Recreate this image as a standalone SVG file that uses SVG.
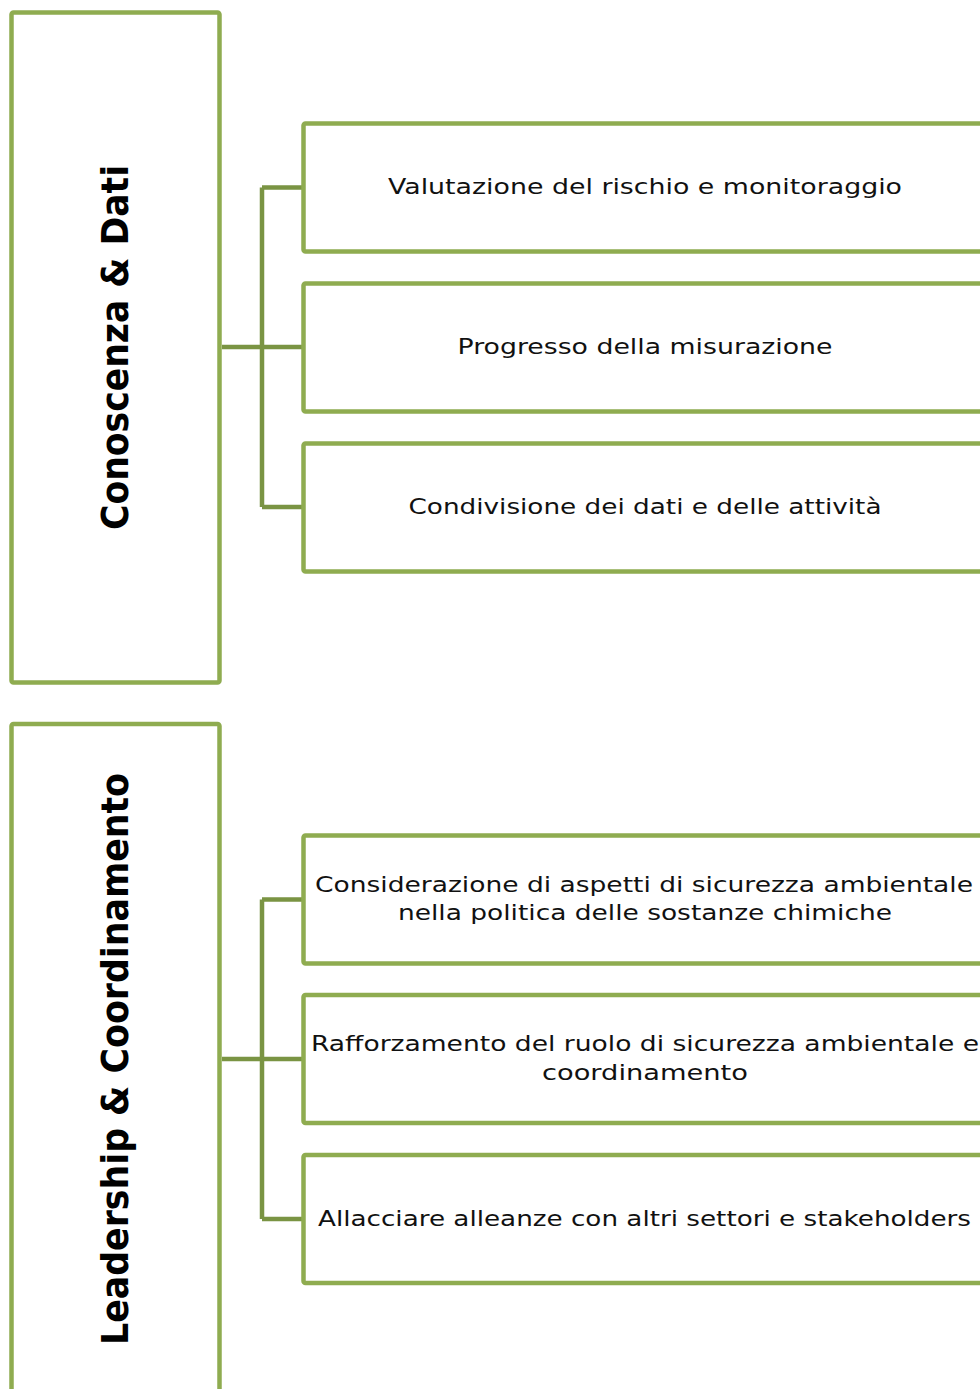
<svg xmlns="http://www.w3.org/2000/svg" width="980" height="1389" viewBox="0 0 980 1389">
<style>
.box{fill:#ffffff;stroke:#8fac50;stroke-width:4.5}
.conn{fill:none;stroke:#7a9443;stroke-width:4.5;stroke-linejoin:miter}
.lbl{font-family:"DejaVu Sans","Liberation Sans",sans-serif;font-size:22px;fill:#111111;text-anchor:middle}
.head{font-family:"DejaVu Sans","Liberation Sans",sans-serif;font-size:38px;font-weight:bold;fill:#000000;text-anchor:middle}
</style>
<rect width="980" height="1389" fill="#ffffff"/>
<g id="connectors">
<path class="conn" d="M222 347 H302 M262 187.5 V507 M262 187.5 H302 M262 507 H302"/>
<path class="conn" d="M222 1059 H302 M262 899.5 V1219 M262 899.5 H302 M262 1219 H302"/>
</g>
<g id="group1">
<rect class="box" x="11.5" y="12.5" width="208" height="670" rx="2"/>
<text class="head" transform="translate(128 347.5) rotate(-90)" textLength="365" lengthAdjust="spacingAndGlyphs">Conoscenza &amp; Dati</text>
</g>
<g id="n1">
<rect class="box" x="303.5" y="123.5" width="720" height="128" rx="2"/>
<text class="lbl" x="645" y="194" textLength="514" lengthAdjust="spacingAndGlyphs">Valutazione del rischio e monitoraggio</text>
</g>
<g id="n2">
<rect class="box" x="303.5" y="283.5" width="720" height="128" rx="2"/>
<text class="lbl" x="645" y="353.5" textLength="375" lengthAdjust="spacingAndGlyphs">Progresso della misurazione</text>
</g>
<g id="n3">
<rect class="box" x="303.5" y="443.5" width="720" height="128" rx="2"/>
<text class="lbl" x="645" y="513.5" textLength="473" lengthAdjust="spacingAndGlyphs">Condivisione dei dati e delle attività</text>
</g>
<g id="group2">
<rect class="box" x="11.5" y="724" width="208" height="720" rx="2"/>
<text class="head" transform="translate(128 1059) rotate(-90)" textLength="572" lengthAdjust="spacingAndGlyphs">Leadership &amp; Coordinamento</text>
</g>
<g id="n4">
<rect class="box" x="303.5" y="835.5" width="720" height="128" rx="2"/>
<text class="lbl" x="644" y="891.5" textLength="658" lengthAdjust="spacingAndGlyphs">Considerazione di aspetti di sicurezza ambientale</text>
<text class="lbl" x="645" y="920" textLength="494" lengthAdjust="spacingAndGlyphs">nella politica delle sostanze chimiche</text>
</g>
<g id="n5">
<rect class="box" x="303.5" y="995" width="720" height="128" rx="2"/>
<text class="lbl" x="645" y="1051" textLength="668" lengthAdjust="spacingAndGlyphs">Rafforzamento del ruolo di sicurezza ambientale e</text>
<text class="lbl" x="645" y="1079.5" textLength="206" lengthAdjust="spacingAndGlyphs">coordinamento</text>
</g>
<g id="n6">
<rect class="box" x="303.5" y="1155" width="720" height="128" rx="2"/>
<text class="lbl" x="644.5" y="1225.5" textLength="653" lengthAdjust="spacingAndGlyphs">Allacciare alleanze con altri settori e stakeholders</text>
</g>
</svg>
